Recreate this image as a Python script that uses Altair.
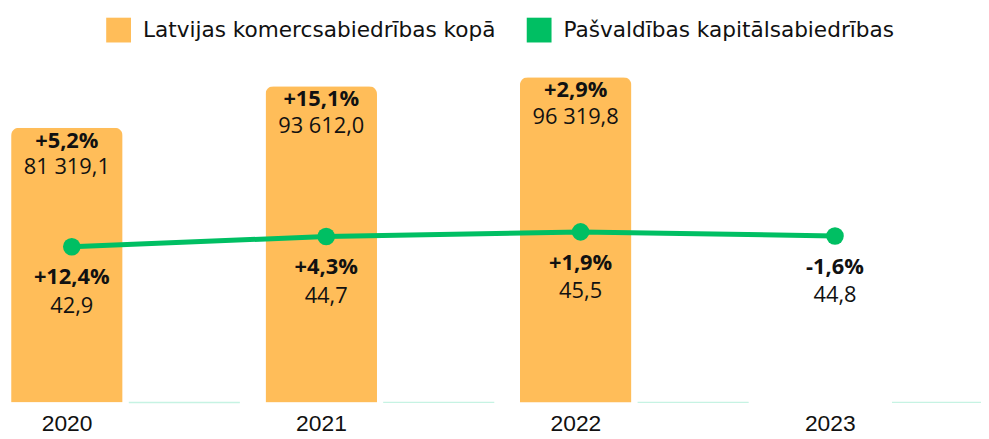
import altair as alt
import pandas as pd

years = ["2020", "2021", "2022", "2023"]
comm_years = ["2020", "2021", "2022"]
comm_values = [81319.1, 93612.0, 96319.8]
comm_change = ["+5,2%", "+15,1%", "+2,9%"]
muni_values = [42.9, 44.7, 45.5, 44.8]
muni_change = ["+12,4%", "+4,3%", "+1,9%", "-1,6%"]

S_COMM = "Latvijas komercsabiedrības kopā"
S_MUNI = "Pašvaldības kapitālsabiedrības"

ORANGE = "#FFBD59"
GREEN = "#00BF63"
TEAL = "#C6F3E3"
INK = "#111111"
FONT = "Open Sans"
LEGEND_FONT = "DejaVu Sans"
AXIS_FONT = "Liberation Sans"


def fmt(v):
    return f"{v:,.1f}".replace(",", " ").replace(".", ",")


comm_df = pd.DataFrame({
    "year": comm_years,
    "value": comm_values,
    "change": comm_change,
    "label": [fmt(v) for v in comm_values],
    "series": S_COMM,
})
muni_df = pd.DataFrame({
    "year": years,
    "value": muni_values,
    "change": muni_change,
    "label": [fmt(v) for v in muni_values],
    "series": S_MUNI,
})

x_axis = alt.Axis(title=None, labelOffset=-59, ticks=False, domain=False,
                  labelPadding=10, labelFontSize=23, labelFont=AXIS_FONT,
                  labelColor=INK, labelAngle=0, grid=False)
x_scale = alt.Scale(domain=years, range=[-9.7, 1016.3], paddingInner=0.1, paddingOuter=0.05)


def X(**kw):
    return alt.X("year:N", sort=years, scale=x_scale, axis=x_axis, **kw)


xo = alt.XOffset("series:N", scale=alt.Scale(domain=[S_COMM, S_MUNI], paddingInner=0.051, paddingOuter=0))
y_comm = alt.Y("value:Q", scale=alt.Scale(domain=[0, 116265]), axis=None)
y_muni = alt.Y("value:Q", scale=alt.Scale(domain=[15.7, 84.3], zero=False), axis=None)

bars = alt.Chart(comm_df).mark_bar(cornerRadiusTopLeft=8, cornerRadiusTopRight=8).encode(
    x=X(), xOffset=xo, y=y_comm,
    color=alt.Color("series:N",
                    scale=alt.Scale(domain=[S_COMM, S_MUNI], range=[ORANGE, GREEN]),
                    legend=alt.Legend(title=None, orient="none", legendX=99, legendY=8,
                                      direction="horizontal", symbolType="square",
                                      symbolSize=625, symbolStrokeWidth=0, symbolOpacity=1,
                                      labelFontSize=21.8, labelFont=LEGEND_FONT, labelColor=INK,
                                      labelOffset=12, labelLimit=0, columnPadding=31,
                                      padding=0)),
)

muni_ticks = alt.Chart(muni_df).mark_tick(color=TEAL, thickness=1.5, size=112, opacity=1).encode(
    x=X(), xOffset=xo, y=y_comm,
)

bar_pct = alt.Chart(comm_df).mark_text(font=FONT, fontSize=22, fontWeight="bold", dy=13, color=INK).encode(
    x=X(), xOffset=xo, y=y_comm, text="change:N")
bar_val = alt.Chart(comm_df).mark_text(font=FONT, fontSize=22, dy=40, color=INK).encode(
    x=X(), xOffset=xo, y=y_comm, text="label:N")

line = alt.Chart(muni_df).mark_line(color=GREEN, strokeWidth=5).encode(
    x=X(bandPosition=0.265), y=y_muni)
pts = alt.Chart(muni_df).mark_circle(color=GREEN, size=314, opacity=1).encode(
    x=X(bandPosition=0.265), y=y_muni)
muni_pct = alt.Chart(muni_df).mark_text(font=FONT, fontSize=22, fontWeight="bold", dy=31, color=INK).encode(
    x=X(bandPosition=0.265), y=y_muni, text="change:N")
muni_val = alt.Chart(muni_df).mark_text(font=FONT, fontSize=22, dy=60, color=INK).encode(
    x=X(bandPosition=0.265), y=y_muni, text="label:N")

chart = alt.layer(bars, muni_ticks, bar_pct, bar_val, line, pts, muni_pct, muni_val).resolve_scale(
    y="independent"
).properties(
    width=981, height=396,
    autosize=alt.AutoSizeParams(type="none"),
    padding={"left": 0, "top": 0, "right": 0, "bottom": 35},
).configure_view(stroke=None)

chart.save("out.html", embed_options={"renderer": "svg", "actions": False})
